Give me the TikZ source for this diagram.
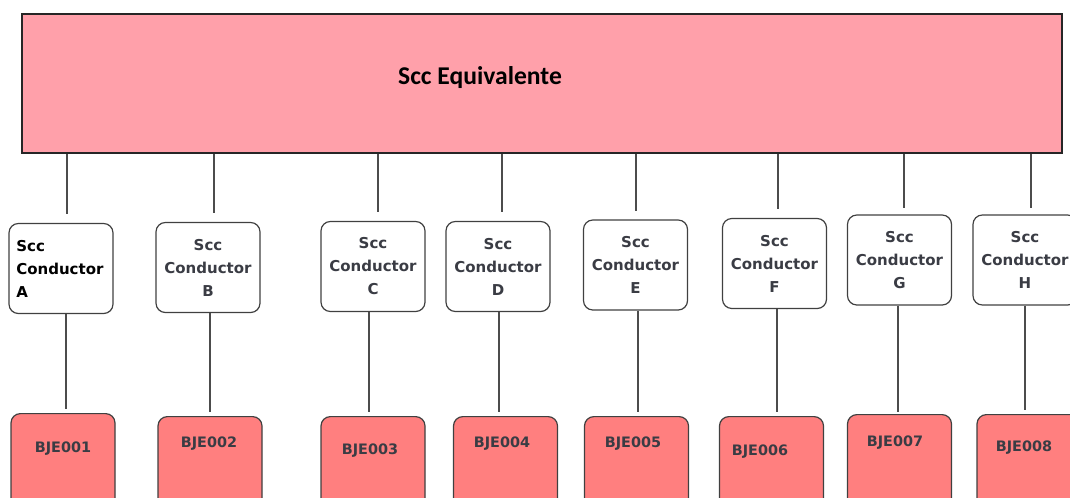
\documentclass[tikz,border=0pt]{standalone}
\usepackage{fontspec}
\newfontfamily\boxfont{DejaVu Sans}
\newfontfamily\titlefont{Carlito}

\definecolor{equivfill}{RGB}{255,160,170}
\definecolor{bjefill}{RGB}{255,127,127}
\definecolor{inkgray}{RGB}{58,60,68}

\begin{document}
\begin{tikzpicture}[x=0.75pt, y=-0.75pt,
    equivbox/.style={draw=black!85, fill=equivfill, line width=1.2pt, minimum width=780pt, minimum height=104.25pt, inner sep=0pt},
    condbox/.style={draw=black!75, line width=0.9pt, rounded corners=7pt, minimum width=78pt, minimum height=67.5pt, inner sep=0pt, align=center, text=inkgray, font=\boxfont\bfseries\fontsize{11.25}{17.25}\selectfont},
    bjebox/.style={draw=black!75, fill=bjefill, line width=0.9pt, rounded corners=7pt, minimum width=78pt, minimum height=75pt, anchor=north, inner sep=0pt},
    bjetext/.style={text=inkgray, font=\boxfont\bfseries\fontsize{10.8}{13}\selectfont, inner sep=0pt},
    link/.style={draw=black!70, line width=0.8pt}]
    \useasboundingbox (0,0) rectangle (1070,497);

    % main block
    \node[equivbox] (equiv) at (542,83.5) {};
    \node[font=\titlefont\bfseries\fontsize{19.2}{23}\selectfont] (equivtext) at (480,78) {Scc Equivalente};

    % conductors
    \node[condbox, align=left, text width=67pt, inner xsep=5.5pt, text=black] (condA) at (61,268.5) {Scc\\Conductor\\A};
    \node[condbox] (condB) at (208,267.5) {Scc\\Conductor\\B};
    \node[condbox] (condC) at (373,266.5) {Scc\\Conductor\\C};
    \node[condbox] (condD) at (498,266.5) {Scc\\Conductor\\D};
    \node[condbox] (condE) at (635.5,265) {Scc\\Conductor\\E};
    \node[condbox] (condF) at (774.5,263.5) {Scc\\Conductor\\F};
    \node[condbox] (condG) at (899.5,260) {Scc\\Conductor\\G};
    \node[condbox] (condH) at (1025,260) {Scc\\Conductor\\H};

    % BJE blocks, cut by the page edge
    \node[bjebox] (bje1) at (63,413) {};
    \node[bjebox] (bje2) at (210,416) {};
    \node[bjebox] (bje3) at (373,416) {};
    \node[bjebox] (bje4) at (505.5,416) {};
    \node[bjebox] (bje5) at (636.5,416) {};
    \node[bjebox] (bje6) at (771.5,416) {};
    \node[bjebox] (bje7) at (899.5,414) {};
    \node[bjebox] (bje8) at (1029,414) {};

    \node[bjetext] (bjetext1) at (63,449) {BJE001};
    \node[bjetext] (bjetext2) at (209,444) {BJE002};
    \node[bjetext] (bjetext3) at (370,451) {BJE003};
    \node[bjetext] (bjetext4) at (502,444) {BJE004};
    \node[bjetext] (bjetext5) at (633,444) {BJE005};
    \node[bjetext] (bjetext6) at (760,452) {BJE006};
    \node[bjetext] (bjetext7) at (895,443) {BJE007};
    \node[bjetext] (bjetext8) at (1024,448) {BJE008};

    % x of the wires
    \coordinate (upA) at (67,0);
    \coordinate (upB) at (214,0);
    \coordinate (upC) at (378,0);
    \coordinate (upD) at (502,0);
    \coordinate (upE) at (636,0);
    \coordinate (upF) at (778,0);
    \coordinate (upG) at (904,0);
    \coordinate (upH) at (1031,0);
    \coordinate (dnA) at (66,0);
    \coordinate (dnB) at (210,0);
    \coordinate (dnC) at (369,0);
    \coordinate (dnD) at (499,0);
    \coordinate (dnE) at (638,0);
    \coordinate (dnF) at (777,0);
    \coordinate (dnG) at (898,0);
    \coordinate (dnH) at (1025,0);

    \draw[link, shorten >=6.5pt] (equiv.south -| upA) -- (upA |- condA.north);
    \draw[link, shorten >=6.5pt] (equiv.south -| upB) -- (upB |- condB.north);
    \draw[link, shorten >=6.5pt] (equiv.south -| upC) -- (upC |- condC.north);
    \draw[link, shorten >=6.5pt] (equiv.south -| upD) -- (upD |- condD.north);
    \draw[link, shorten >=6.5pt] (equiv.south -| upE) -- (upE |- condE.north);
    \draw[link, shorten >=6.5pt] (equiv.south -| upF) -- (upF |- condF.north);
    \draw[link, shorten >=5pt] (equiv.south -| upG) -- (upG |- condG.north);
    \draw[link, shorten >=4.5pt] (equiv.south -| upH) -- (upH |- condH.north);

    \draw[link, shorten >=2.7pt] (condA.south -| dnA) -- (dnA |- bje1.north);
    \draw[link, shorten >=2.7pt] (condB.south -| dnB) -- (dnB |- bje2.north);
    \draw[link, shorten >=2.7pt] (condC.south -| dnC) -- (dnC |- bje3.north);
    \draw[link, shorten >=2.7pt] (condD.south -| dnD) -- (dnD |- bje4.north);
    \draw[link, shorten >=2.7pt] (condE.south -| dnE) -- (dnE |- bje5.north);
    \draw[link, shorten >=2.7pt] (condF.south -| dnF) -- (dnF |- bje6.north);
    \draw[link, shorten >=1.5pt] (condG.south -| dnG) -- (dnG |- bje7.north);
    \draw[link, shorten >=2.7pt] (condH.south -| dnH) -- (dnH |- bje8.north);
\end{tikzpicture}
\end{document}
